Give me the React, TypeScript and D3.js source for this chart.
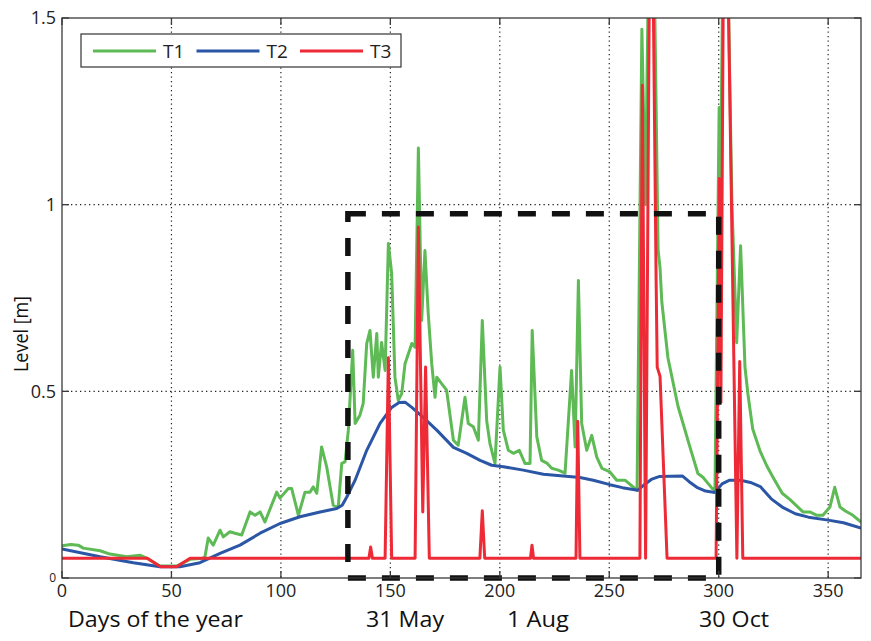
import React from 'react';
import * as d3 from 'd3';

// ---- data ----
const t1Days = [0, 4, 7.4, 9.7, 17.4, 21.9, 29.6, 35.6, 38.7, 44.8, 52.4, 58.5, 64.4, 65.3, 66.8, 69.1, 72.2, 73.7, 76.7, 79, 82.1, 85.9, 88.2, 90.5, 92.7, 98.1, 99.6, 103.4, 104.9, 108, 111, 113.3, 114.8, 116.4, 118.6, 120.9, 123.9, 126.2, 127.8, 129.3, 130.8, 132.8, 133.9, 136.1, 137.6, 139.2, 140.7, 142.2, 143.8, 144.5, 146, 147.6, 149.1, 150.6, 152.1, 153.6, 155.2, 156.7, 158.2, 159.8, 161.3, 162.8, 164.3, 165.8, 167.3, 168.9, 170.4, 171.2, 173.5, 175.7, 178.8, 181, 182.6, 184.1, 185.6, 187.9, 190.2, 192, 194, 195.5, 197.8, 200.1, 201.6, 203.9, 206.2, 208.9, 211.5, 213.8, 214.8, 216.9, 219.1, 221.7, 223.7, 226.7, 229.8, 232.8, 234.4, 235.9, 237.4, 239.7, 242, 244.3, 246.6, 250.3, 253.4, 257.2, 262.7, 264.9, 266.5, 269.2, 272.3, 273.2, 274, 276.8, 281.4, 286.9, 290.5, 292.8, 297, 298.3, 300.2, 300.8, 302.8, 306, 308.2, 310, 312, 313.3, 315.5, 318.9, 322, 324.8, 329, 332.6, 338.5, 341.6, 344.9, 347.6, 350.8, 353, 355.4, 357.7, 361.3, 365];
const t1Values = [0.086, 0.09, 0.088, 0.08, 0.073, 0.064, 0.057, 0.061, 0.053, 0.032, 0.032, 0.05, 0.053, 0.057, 0.107, 0.088, 0.128, 0.11, 0.124, 0.12, 0.115, 0.177, 0.168, 0.177, 0.15, 0.23, 0.214, 0.24, 0.24, 0.168, 0.23, 0.23, 0.244, 0.227, 0.351, 0.298, 0.195, 0.19, 0.307, 0.311, 0.396, 0.61, 0.414, 0.436, 0.468, 0.628, 0.663, 0.538, 0.655, 0.538, 0.631, 0.556, 0.896, 0.815, 0.538, 0.476, 0.494, 0.574, 0.6, 0.628, 0.618, 1.152, 0.69, 0.877, 0.708, 0.574, 0.484, 0.538, 0.52, 0.503, 0.369, 0.356, 0.422, 0.484, 0.414, 0.405, 0.369, 0.69, 0.422, 0.36, 0.307, 0.565, 0.396, 0.342, 0.334, 0.342, 0.307, 0.307, 0.663, 0.378, 0.315, 0.307, 0.294, 0.289, 0.281, 0.556, 0.351, 0.797, 0.414, 0.342, 0.382, 0.324, 0.294, 0.284, 0.262, 0.262, 0.235, 1.47, 1.0, 2.2, 0.88, 0.83, 0.74, 0.59, 0.46, 0.35, 0.28, 0.27, 0.24, 0.235, 1.26, 1.05, 2.1, 1.01, 0.63, 0.89, 0.565, 0.495, 0.4, 0.34, 0.3, 0.27, 0.227, 0.21, 0.177, 0.177, 0.168, 0.168, 0.19, 0.243, 0.19, 0.18, 0.168, 0.15];

const t2Days = [0, 17.4, 32.6, 44.8, 53.9, 63, 72.2, 81.3, 90.5, 99.6, 108.7, 117.9, 125.5, 128, 130.1, 133.9, 139.2, 145.3, 150.6, 154, 156.7, 159.8, 165, 171.2, 178.8, 184.9, 191, 196.3, 201.6, 210.7, 219.9, 229, 236.6, 242.7, 250.3, 256, 263, 266, 269.5, 273, 283.5, 286.5, 290, 294, 298.3, 301.5, 305, 310, 314.5, 319, 324, 329, 335, 341, 350, 357, 365];
const t2Values = [0.078, 0.057, 0.041, 0.03, 0.03, 0.041, 0.066, 0.088, 0.12, 0.146, 0.164, 0.177, 0.186, 0.195, 0.217, 0.262, 0.342, 0.414, 0.457, 0.47, 0.471, 0.457, 0.43, 0.396, 0.35, 0.334, 0.315, 0.302, 0.298, 0.289, 0.278, 0.273, 0.269, 0.262, 0.25, 0.242, 0.235, 0.25, 0.265, 0.272, 0.273, 0.258, 0.243, 0.233, 0.229, 0.252, 0.262, 0.262, 0.256, 0.245, 0.212, 0.19, 0.172, 0.163, 0.155, 0.148, 0.134];

const t3Days = [0, 39, 45, 52.4, 58.5, 140.2, 141, 141.8, 147.6, 149.1, 150.6, 161.3, 162.8, 164.8, 166.1, 167.8, 190.9, 192, 193.1, 214, 214.7, 215.4, 234.8, 235.6, 236.6, 264, 265.1, 266.6, 269, 271.4, 271.9, 273.2, 276.4, 298.8, 300.3, 301, 302.7, 308.3, 309.6, 311, 365];
const t3Values = [0.053, 0.053, 0.03, 0.03, 0.053, 0.053, 0.083, 0.053, 0.053, 0.59, 0.053, 0.053, 0.94, 0.177, 0.565, 0.053, 0.053, 0.18, 0.053, 0.053, 0.088, 0.053, 0.053, 0.42, 0.053, 0.053, 1.32, 0.053, 2.2, 0.8, 0.565, 0.54, 0.053, 0.053, 1.07, 0.47, 2.2, 0.053, 0.58, 0.053, 0.053];

const seriesNames = ['T1', 'T2', 'T3'];
const seriesColors = ['#5dba55', '#2b55a5', '#ee2a36'];

const xTicks = [0, 50, 100, 150, 200, 250, 300, 350];
const yTicks = [0, 0.5, 1, 1.5];
const yTickLabels = ['0', '0.5', '1', '1.5'];
const xGrid = [50, 100, 150, 200, 250, 300, 350];
const yGrid = [0.5, 1];

const dateLabels = ['31 May', '1 Aug', '30 Oct'];
const dateLabelDays = [156.7, 217.4, 307];
const dateLabelWidths = [78, 62, 70];

const boxDays = [130.6, 300];
const boxLevels = [0, 0.976];

const FONT = "'Open Sans', 'Liberation Sans', Arial, sans-serif";

export default function App() {
  const W = 871, H = 641;
  const L = 62, R = 861, T = 18, B = 578;
  const x = d3.scaleLinear().domain([0, 365]).range([L, R]);
  const y = d3.scaleLinear().domain([0, 1.5]).range([B, T]);

  const mk = (days: number[], vals: number[]) =>
    d3.line<number>().x((_, i) => x(days[i])).y((v) => y(v))(vals) || '';

  const paths = [mk(t1Days, t1Values), mk(t2Days, t2Values), mk(t3Days, t3Values)];

  const bx0 = x(boxDays[0]), bx1 = x(boxDays[1]);
  const by0 = y(boxLevels[0]), by1 = y(boxLevels[1]);
  const boxPath = `M${bx0},${by1}L${bx1},${by1}L${bx1},${by0}L${bx0},${by0}Z`;

  const axisColor = '#3a3a3a';
  const tickLen = 7;

  return (
    <svg width={W} height={H} style={{ position: 'absolute', left: 0, top: 0, background: '#fff' }} fontFamily={FONT}>
      <defs>
        <clipPath id="plotClip">
          <rect x={L} y={T} width={R - L} height={B - T} />
        </clipPath>
      </defs>
      <rect x={0} y={0} width={W} height={H} fill="#fff" />

      {xGrid.map((d) => (
        <line key={'xg' + d} x1={x(d)} x2={x(d)} y1={T} y2={B} stroke="#222" strokeWidth={1.2} strokeDasharray="1.3,3.2" />
      ))}
      {yGrid.map((d) => (
        <line key={'yg' + d} x1={L} x2={R} y1={y(d)} y2={y(d)} stroke="#222" strokeWidth={1.2} strokeDasharray="1.3,3.2" />
      ))}

      <g clipPath="url(#plotClip)">
        {paths.map((p, i) => (
          <path key={'s' + i} d={p} fill="none" stroke={seriesColors[i]} strokeWidth={3} strokeLinejoin="round" strokeLinecap="round" />
        ))}
      </g>

      <path d={boxPath} fill="none" stroke="#111" strokeWidth={5.5} strokeDasharray="18,16" />

      <rect x={L} y={T} width={R - L} height={B - T} fill="none" stroke={axisColor} strokeWidth={1.3} />

      {xTicks.map((d) => (
        <g key={'xt' + d}>
          <line x1={x(d)} x2={x(d)} y1={B} y2={B - tickLen} stroke={axisColor} strokeWidth={1.3} />
          <line x1={x(d)} x2={x(d)} y1={T} y2={T + tickLen} stroke={axisColor} strokeWidth={1.3} />
          <text x={x(d)} y={597} textAnchor="middle" fontSize={18} fill="#222">{d}</text>
        </g>
      ))}
      {yTicks.map((d, i) => (
        <g key={'yt' + d}>
          <line x1={L} x2={L + tickLen} y1={y(d)} y2={y(d)} stroke={axisColor} strokeWidth={1.3} />
          <line x1={R} x2={R - tickLen} y1={y(d)} y2={y(d)} stroke={axisColor} strokeWidth={1.3} />
          <text x={56} y={y(d)} dy="0.36em" textAnchor="end" fontSize={i === 0 ? 12 : 18} fill="#222">{yTickLabels[i]}</text>
        </g>
      ))}

      <text x={68} y={627} fontSize={21} fill="#111" textLength={175} lengthAdjust="spacingAndGlyphs">Days of the year</text>
      {dateLabels.map((t, i) => (
        <text key={t} x={x(dateLabelDays[i]) - dateLabelWidths[i] / 2} y={627} fontSize={21} fill="#111"
          textLength={dateLabelWidths[i]} lengthAdjust="spacingAndGlyphs">{t}</text>
      ))}
      <text transform="translate(28,334) rotate(-90)" x={-38} fontSize={20} fill="#111" textLength={76} lengthAdjust="spacingAndGlyphs">Level [m]</text>

      <g>
        <rect x={81} y={34} width={320} height={33} fill="#fff" stroke="#333" strokeWidth={1.2} />
        {seriesNames.map((n, i) => {
          const x0 = 93 + i * 103.5;
          return (
            <g key={n}>
              <line x1={x0} x2={x0 + 63} y1={51} y2={51} stroke={seriesColors[i]} strokeWidth={3} />
              <text x={x0 + 70} y={58} fontSize={19} fill="#222">{n}</text>
            </g>
          );
        })}
      </g>
    </svg>
  );
}
